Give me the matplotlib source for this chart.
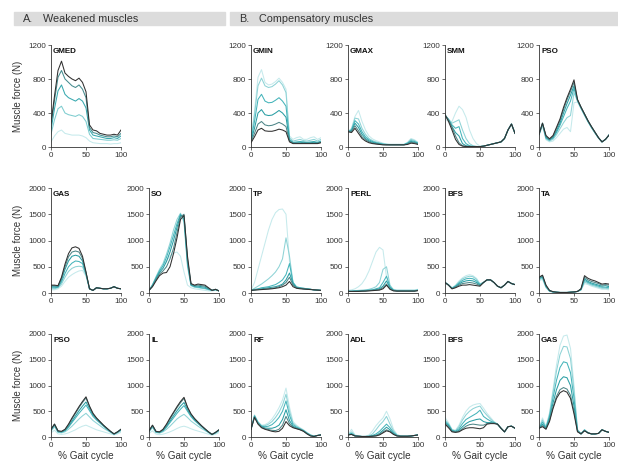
import matplotlib.pyplot as plt
from matplotlib.patches import Rectangle
from matplotlib.colors import LinearSegmentedColormap

plt.rcParams['font.family'] = ['Liberation Sans', 'DejaVu Sans']

# % gait cycle sample points
gait = list(range(0, 101, 5))

# each panel: lines listed from darkest to lightest
gmed_a = [
    [280, 600, 900, 1010, 870, 830, 800, 780, 810, 760, 650, 260, 200, 190, 160, 150, 140, 140, 150, 140, 200],
    [250, 550, 820, 900, 800, 760, 720, 700, 730, 680, 580, 230, 170, 160, 140, 130, 120, 120, 130, 120, 160],
    [200, 450, 660, 730, 620, 580, 560, 540, 570, 540, 460, 200, 140, 130, 120, 110, 100, 100, 110, 100, 130],
    [150, 320, 450, 480, 400, 380, 370, 360, 380, 360, 300, 150, 100, 95, 90, 85, 80, 80, 85, 80, 100],
    [60, 130, 180, 200, 160, 150, 140, 140, 140, 130, 110, 70, 50, 45, 40, 40, 40, 35, 40, 40, 50],
]
gmin_b = [
    [50, 120, 200, 220, 190, 185, 185, 195, 210, 200, 180, 60, 40, 40, 40, 40, 40, 40, 40, 40, 50],
    [60, 160, 270, 300, 260, 250, 255, 270, 290, 270, 240, 70, 45, 45, 45, 45, 45, 45, 45, 45, 55],
    [70, 220, 400, 440, 380, 370, 375, 400, 430, 400, 350, 80, 50, 50, 50, 55, 50, 50, 55, 50, 60],
    [80, 300, 560, 620, 540, 520, 525, 550, 580, 540, 480, 90, 55, 60, 65, 60, 55, 60, 65, 55, 70],
    [90, 380, 720, 810, 720, 700, 710, 740, 780, 730, 640, 110, 70, 80, 90, 75, 70, 80, 90, 70, 90],
    [100, 420, 820, 910, 760, 730, 740, 770, 810, 760, 680, 130, 90, 110, 120, 90, 90, 110, 120, 90, 110],
]
gmax_b = [
    [180, 170, 220, 160, 100, 70, 50, 40, 35, 30, 25, 25, 25, 25, 25, 25, 25, 30, 45, 40, 30],
    [180, 180, 250, 190, 120, 85, 60, 45, 38, 32, 28, 25, 25, 25, 25, 25, 25, 35, 55, 50, 35],
    [180, 190, 280, 230, 150, 100, 70, 55, 45, 38, 30, 28, 27, 27, 27, 27, 27, 40, 65, 55, 40],
    [180, 200, 310, 270, 180, 120, 85, 65, 50, 42, 33, 30, 28, 28, 28, 28, 28, 45, 75, 65, 45],
    [180, 210, 340, 330, 220, 150, 100, 75, 60, 50, 38, 32, 30, 30, 30, 30, 30, 50, 90, 75, 50],
    [180, 220, 360, 430, 300, 200, 130, 95, 75, 60, 45, 35, 32, 32, 32, 32, 32, 55, 100, 85, 55],
]
smm_b = [
    [380, 300, 200, 90, 30, 10, 5, 5, 5, 5, 5, 10, 20, 30, 40, 50, 60, 100, 200, 270, 160],
    [380, 320, 230, 130, 50, 15, 8, 5, 5, 5, 5, 10, 20, 30, 40, 50, 60, 100, 200, 270, 160],
    [380, 320, 240, 170, 130, 40, 15, 8, 5, 5, 5, 10, 20, 30, 40, 50, 60, 100, 200, 270, 160],
    [370, 320, 260, 220, 240, 100, 40, 15, 8, 5, 5, 10, 20, 30, 40, 50, 60, 100, 200, 270, 160],
    [360, 330, 280, 300, 320, 200, 100, 40, 15, 8, 5, 10, 20, 30, 40, 50, 60, 100, 200, 270, 160],
    [330, 300, 300, 400, 480, 440, 350, 200, 100, 40, 10, 10, 20, 30, 40, 50, 60, 100, 200, 270, 160],
]
pso_b = [
    [150, 280, 135, 97, 135, 232, 330, 465, 580, 680, 790, 560, 470, 390, 310, 240, 175, 110, 60, 90, 140],
    [150, 280, 125, 90, 125, 215, 310, 440, 555, 655, 760, 555, 468, 388, 308, 238, 173, 110, 60, 90, 140],
    [150, 280, 115, 85, 115, 190, 280, 400, 510, 610, 720, 550, 465, 385, 305, 235, 170, 108, 60, 90, 140],
    [150, 270, 105, 80, 105, 170, 255, 355, 455, 540, 690, 545, 460, 380, 300, 230, 168, 106, 60, 90, 140],
    [140, 260, 95, 70, 90, 145, 215, 285, 345, 370, 640, 540, 455, 375, 298, 228, 165, 105, 60, 90, 140],
    [130, 250, 85, 60, 70, 110, 160, 210, 230, 180, 520, 530, 450, 370, 295, 225, 162, 104, 60, 90, 140],
]
gas_a = [
    [150, 150, 140, 300, 550, 750, 860, 880, 850, 700, 400, 80, 50, 100, 90, 80, 80, 90, 120, 90, 80],
    [140, 140, 130, 280, 500, 690, 780, 800, 780, 660, 390, 80, 50, 100, 90, 80, 80, 90, 120, 90, 80],
    [120, 120, 120, 250, 450, 610, 700, 720, 700, 610, 380, 80, 50, 100, 90, 80, 80, 90, 120, 90, 80],
    [100, 100, 110, 210, 370, 500, 570, 610, 600, 560, 360, 80, 50, 100, 90, 80, 80, 90, 120, 90, 80],
    [80, 80, 100, 170, 300, 410, 470, 500, 510, 500, 340, 80, 50, 100, 90, 80, 80, 90, 120, 90, 80],
    [60, 60, 80, 130, 220, 300, 350, 390, 420, 430, 320, 80, 50, 100, 90, 80, 80, 90, 120, 90, 80],
]
so_a = [
    [50, 120, 230, 330, 380, 390, 500, 750, 1050, 1400, 1480, 700, 180, 150, 170, 160, 150, 100, 50, 70, 40],
    [50, 130, 250, 360, 420, 500, 650, 850, 1150, 1450, 1500, 650, 170, 140, 150, 140, 130, 90, 50, 70, 40],
    [50, 140, 270, 390, 470, 600, 780, 1000, 1250, 1480, 1450, 600, 160, 130, 130, 120, 110, 80, 50, 70, 40],
    [50, 150, 290, 420, 520, 680, 880, 1100, 1320, 1500, 1400, 550, 150, 120, 110, 100, 90, 70, 50, 65, 40],
    [50, 160, 310, 450, 560, 740, 950, 1200, 1400, 1520, 1350, 500, 140, 110, 100, 90, 80, 60, 50, 60, 40],
    [50, 150, 290, 420, 520, 620, 700, 760, 780, 700, 400, 150, 100, 80, 70, 60, 50, 40, 40, 50, 40],
]
tp_b = [
    [50, 55, 60, 65, 70, 75, 80, 90, 100, 120, 150, 220, 120, 90, 80, 75, 70, 65, 60, 55, 50],
    [50, 60, 65, 70, 75, 80, 90, 100, 120, 150, 200, 300, 150, 100, 90, 80, 75, 70, 60, 55, 50],
    [50, 60, 70, 80, 90, 100, 110, 120, 140, 170, 250, 380, 180, 100, 90, 80, 75, 70, 60, 55, 50],
    [50, 70, 80, 100, 110, 120, 140, 160, 200, 250, 350, 560, 200, 110, 100, 90, 80, 70, 60, 55, 50],
    [50, 90, 130, 170, 220, 270, 330, 400, 500, 650, 1050, 700, 200, 120, 100, 90, 80, 70, 60, 55, 50],
    [50, 200, 450, 700, 950, 1200, 1400, 1530, 1590, 1600, 1500, 600, 200, 120, 100, 90, 80, 70, 60, 55, 50],
]
perl_b = [
    [30, 30, 30, 30, 35, 35, 40, 45, 50, 55, 80, 150, 70, 40, 35, 35, 35, 35, 35, 35, 45],
    [30, 30, 30, 35, 35, 40, 45, 50, 55, 65, 100, 170, 80, 45, 40, 40, 40, 40, 40, 40, 50],
    [30, 30, 35, 35, 40, 45, 50, 55, 65, 80, 130, 230, 100, 50, 40, 40, 40, 40, 40, 40, 50],
    [35, 35, 40, 40, 45, 50, 55, 60, 80, 100, 200, 320, 120, 55, 45, 45, 45, 45, 45, 45, 55],
    [40, 40, 45, 50, 55, 60, 70, 90, 120, 200, 450, 500, 150, 60, 50, 50, 50, 50, 50, 50, 60],
    [50, 60, 80, 120, 180, 280, 420, 600, 780, 870, 820, 300, 100, 70, 60, 60, 60, 60, 60, 60, 70],
]
bfs_b1 = [
    [200, 150, 80, 100, 130, 150, 150, 160, 150, 140, 130, 200, 250, 250, 200, 130, 100, 150, 220, 180, 160],
    [200, 150, 80, 110, 150, 180, 190, 200, 190, 170, 140, 200, 250, 250, 200, 130, 100, 150, 220, 180, 160],
    [200, 150, 85, 120, 170, 210, 230, 240, 230, 200, 150, 200, 250, 250, 200, 130, 100, 150, 220, 180, 160],
    [200, 155, 90, 130, 190, 240, 270, 280, 270, 230, 160, 200, 250, 250, 200, 130, 100, 150, 220, 180, 160],
    [200, 160, 95, 140, 210, 270, 300, 320, 310, 260, 170, 200, 250, 250, 200, 130, 100, 150, 220, 180, 160],
    [200, 160, 100, 150, 230, 290, 330, 350, 330, 280, 180, 200, 250, 250, 200, 130, 100, 150, 220, 180, 160],
]
ta_b = [
    [300, 340, 150, 50, 25, 15, 10, 10, 10, 15, 20, 30, 80, 330, 280, 250, 230, 200, 170, 180, 170],
    [290, 330, 140, 45, 25, 15, 10, 10, 10, 15, 20, 30, 75, 300, 250, 220, 200, 180, 150, 160, 150],
    [280, 310, 130, 40, 20, 15, 10, 10, 10, 15, 20, 30, 70, 270, 220, 190, 170, 150, 130, 140, 120],
    [270, 300, 120, 40, 20, 15, 10, 10, 10, 15, 20, 30, 65, 240, 200, 170, 150, 130, 110, 110, 100],
    [250, 280, 110, 35, 20, 15, 10, 10, 10, 15, 20, 30, 60, 210, 180, 150, 130, 110, 90, 90, 80],
    [230, 260, 100, 30, 20, 15, 10, 10, 10, 15, 20, 30, 55, 180, 160, 130, 110, 90, 70, 70, 60],
]
pso_a = [
    [150, 250, 120, 110, 150, 250, 370, 480, 590, 690, 780, 600, 460, 370, 300, 230, 170, 110, 60, 100, 150],
    [150, 250, 115, 105, 140, 235, 350, 460, 570, 670, 760, 590, 450, 365, 295, 225, 165, 110, 60, 100, 150],
    [140, 240, 110, 100, 130, 210, 310, 410, 510, 600, 680, 550, 430, 350, 285, 220, 160, 105, 60, 95, 145],
    [130, 230, 100, 95, 120, 190, 280, 370, 460, 540, 620, 510, 400, 330, 270, 210, 150, 100, 55, 90, 140],
    [110, 200, 90, 80, 100, 150, 210, 280, 350, 410, 460, 390, 320, 270, 220, 170, 130, 90, 50, 80, 120],
    [80, 130, 60, 50, 60, 80, 110, 140, 180, 210, 230, 200, 170, 140, 120, 100, 80, 60, 40, 60, 90],
]
il_a = [
    [120, 230, 110, 100, 150, 250, 370, 480, 590, 690, 770, 580, 450, 360, 290, 220, 160, 100, 50, 90, 140],
    [120, 225, 105, 95, 140, 235, 350, 460, 570, 665, 750, 570, 440, 355, 285, 215, 155, 100, 50, 90, 140],
    [115, 215, 100, 90, 130, 210, 310, 410, 510, 600, 670, 530, 420, 340, 275, 210, 150, 95, 50, 85, 135],
    [110, 205, 95, 85, 120, 190, 280, 370, 460, 540, 610, 500, 395, 320, 260, 200, 145, 90, 50, 80, 130],
    [100, 185, 85, 75, 100, 150, 210, 280, 350, 400, 440, 380, 310, 260, 210, 165, 125, 85, 45, 75, 115],
    [70, 120, 55, 45, 55, 75, 100, 130, 165, 195, 210, 190, 160, 135, 115, 95, 75, 55, 35, 55, 85],
]
rf_b = [
    [150, 380, 250, 180, 150, 130, 110, 100, 110, 170, 300, 220, 180, 160, 140, 110, 60, 20, 10, 30, 40],
    [150, 390, 260, 190, 160, 145, 130, 125, 150, 230, 400, 260, 190, 165, 145, 115, 65, 25, 10, 30, 40],
    [150, 400, 270, 200, 175, 170, 170, 190, 230, 340, 530, 320, 210, 175, 150, 120, 70, 30, 10, 30, 40],
    [150, 410, 280, 210, 200, 210, 240, 300, 380, 500, 700, 420, 240, 190, 160, 125, 75, 35, 15, 30, 40],
    [150, 420, 290, 220, 220, 250, 300, 380, 480, 620, 830, 500, 270, 210, 170, 130, 80, 40, 15, 30, 40],
    [150, 430, 300, 230, 240, 280, 350, 450, 570, 720, 950, 580, 300, 230, 180, 140, 90, 45, 20, 30, 40],
]
adl_b = [
    [40, 50, 20, 15, 10, 10, 10, 15, 20, 40, 80, 120, 100, 50, 20, 15, 15, 15, 20, 30, 40],
    [40, 50, 20, 15, 10, 10, 10, 15, 25, 50, 100, 140, 110, 55, 20, 15, 15, 15, 20, 30, 40],
    [40, 60, 20, 15, 10, 10, 10, 20, 35, 70, 130, 190, 140, 70, 25, 15, 15, 15, 20, 30, 40],
    [40, 70, 25, 15, 10, 10, 15, 30, 60, 110, 180, 250, 180, 90, 30, 15, 15, 15, 20, 30, 40],
    [40, 100, 30, 15, 10, 10, 20, 60, 140, 230, 300, 400, 250, 120, 40, 20, 15, 15, 20, 30, 40],
    [40, 150, 40, 20, 10, 15, 40, 120, 220, 300, 370, 500, 350, 150, 50, 20, 15, 15, 20, 30, 40],
]
bfs_b2 = [
    [250, 180, 100, 90, 100, 140, 170, 180, 180, 170, 160, 180, 250, 260, 260, 250, 170, 100, 200, 210, 170],
    [260, 200, 110, 95, 110, 160, 210, 240, 250, 240, 230, 230, 260, 270, 270, 250, 170, 100, 200, 210, 170],
    [280, 220, 120, 100, 130, 200, 260, 300, 320, 340, 350, 300, 280, 280, 270, 250, 170, 100, 200, 210, 170],
    [300, 240, 130, 110, 160, 260, 340, 380, 420, 460, 520, 400, 350, 310, 280, 250, 170, 100, 200, 210, 170],
    [330, 260, 140, 120, 200, 330, 430, 500, 550, 580, 600, 500, 420, 350, 290, 250, 170, 100, 200, 210, 170],
    [380, 280, 150, 130, 230, 380, 500, 580, 620, 640, 650, 560, 460, 380, 300, 250, 170, 100, 200, 210, 170],
]
gas_b = [
    [170, 200, 150, 300, 550, 750, 860, 900, 870, 750, 450, 100, 60, 120, 80, 60, 60, 70, 140, 110, 90],
    [170, 220, 160, 320, 580, 790, 920, 960, 930, 810, 500, 110, 60, 125, 80, 60, 60, 70, 140, 110, 90],
    [170, 250, 170, 360, 660, 920, 1100, 1170, 1150, 1000, 600, 120, 60, 130, 80, 60, 60, 70, 140, 110, 90],
    [170, 290, 180, 400, 760, 1100, 1350, 1460, 1440, 1250, 750, 130, 60, 135, 80, 60, 60, 70, 140, 110, 90],
    [170, 330, 190, 440, 860, 1280, 1600, 1760, 1750, 1520, 900, 140, 60, 140, 85, 60, 60, 70, 140, 110, 90],
    [170, 370, 200, 470, 920, 1400, 1780, 1960, 1980, 1720, 1000, 150, 60, 145, 85, 60, 60, 70, 140, 110, 90],
]

# (label, data, row, col, ymax)
panels = [
    ("GMED", gmed_a, 0, 0, 1200),
    ("GMIN", gmin_b, 0, 2, 1200),
    ("GMAX", gmax_b, 0, 3, 1200),
    ("SMM", smm_b, 0, 4, 1200),
    ("PSO", pso_b, 0, 5, 1200),
    ("GAS", gas_a, 1, 0, 2000),
    ("SO", so_a, 1, 1, 2000),
    ("TP", tp_b, 1, 2, 2000),
    ("PERL", perl_b, 1, 3, 2000),
    ("BFS", bfs_b1, 1, 4, 2000),
    ("TA", ta_b, 1, 5, 2000),
    ("PSO", pso_a, 2, 0, 2000),
    ("IL", il_a, 2, 1, 2000),
    ("RF", rf_b, 2, 2, 2000),
    ("ADL", adl_b, 2, 3, 2000),
    ("BFS", bfs_b2, 2, 4, 2000),
    ("GAS", gas_b, 2, 5, 2000),
]

W, H = 618, 461
col_left = [51, 149, 251, 348, 445, 539]
row_top = [45, 188, 334]
row_bot = [147, 293, 437]
ax_w = 70

ramp = LinearSegmentedColormap.from_list(
    "dk2cyan", ["#303030", "#4e8688", "#2a9ea4", "#45b4ba", "#8ed3d6", "#c6eaec"])

fig = plt.figure(figsize=(W / 100, H / 100), dpi=100)

# section headers
for x0, x1, tag, txt in [(14, 225, "A.", "Weakened muscles"),
                         (230, 618, "B.", "Compensatory muscles")]:
    fig.patches.append(Rectangle((x0 / W, 1 - 25 / H), (x1 - x0) / W, 13 / H,
                                 transform=fig.transFigure, color="#dcdcdc", zorder=0))
    fig.text((x0 + 9) / W, 1 - 18.5 / H, tag, fontsize=7.8, color="#333333", va="center")
    fig.text((x0 + 29) / W, 1 - 18.5 / H, txt, fontsize=7.8, color="#333333", va="center")

for name, lines, r, c, ymax in panels:
    ax = fig.add_axes([col_left[c] / W, 1 - row_bot[r] / H, ax_w / W,
                       (row_bot[r] - row_top[r]) / H])
    n = len(lines)
    for i in range(n - 1, -1, -1):
        ax.plot(gait, lines[i], color=ramp(i / (n - 1)), lw=0.75)
    ax.set_xlim(0, 100)
    ax.set_ylim(0, ymax)
    ax.set_xticks([0, 50, 100])
    ax.set_yticks(range(0, ymax + 1, 400 if ymax == 1200 else 500))
    for s in ["top", "right"]:
        ax.spines[s].set_visible(False)
    for s in ["left", "bottom"]:
        ax.spines[s].set_linewidth(0.6)
        ax.spines[s].set_color("#333333")
    ax.tick_params(labelsize=5.8, length=2, width=0.5, pad=1.5, colors="#333333")
    ax.text(0.03, 0.97, name, transform=ax.transAxes, fontsize=5.8,
            fontweight="bold", va="top", ha="left", color="#111111")
    if r == 2:
        ax.set_xlabel("% Gait cycle", fontsize=7.2, color="#333333", labelpad=1.5)

for r in range(3):
    yc = (row_top[r] + row_bot[r]) / 2
    fig.text(18 / W, 1 - yc / H, "Muscle force (N)", rotation=90, fontsize=7,
             color="#333333", ha="center", va="center")

fig.savefig("out.png", dpi=100)
